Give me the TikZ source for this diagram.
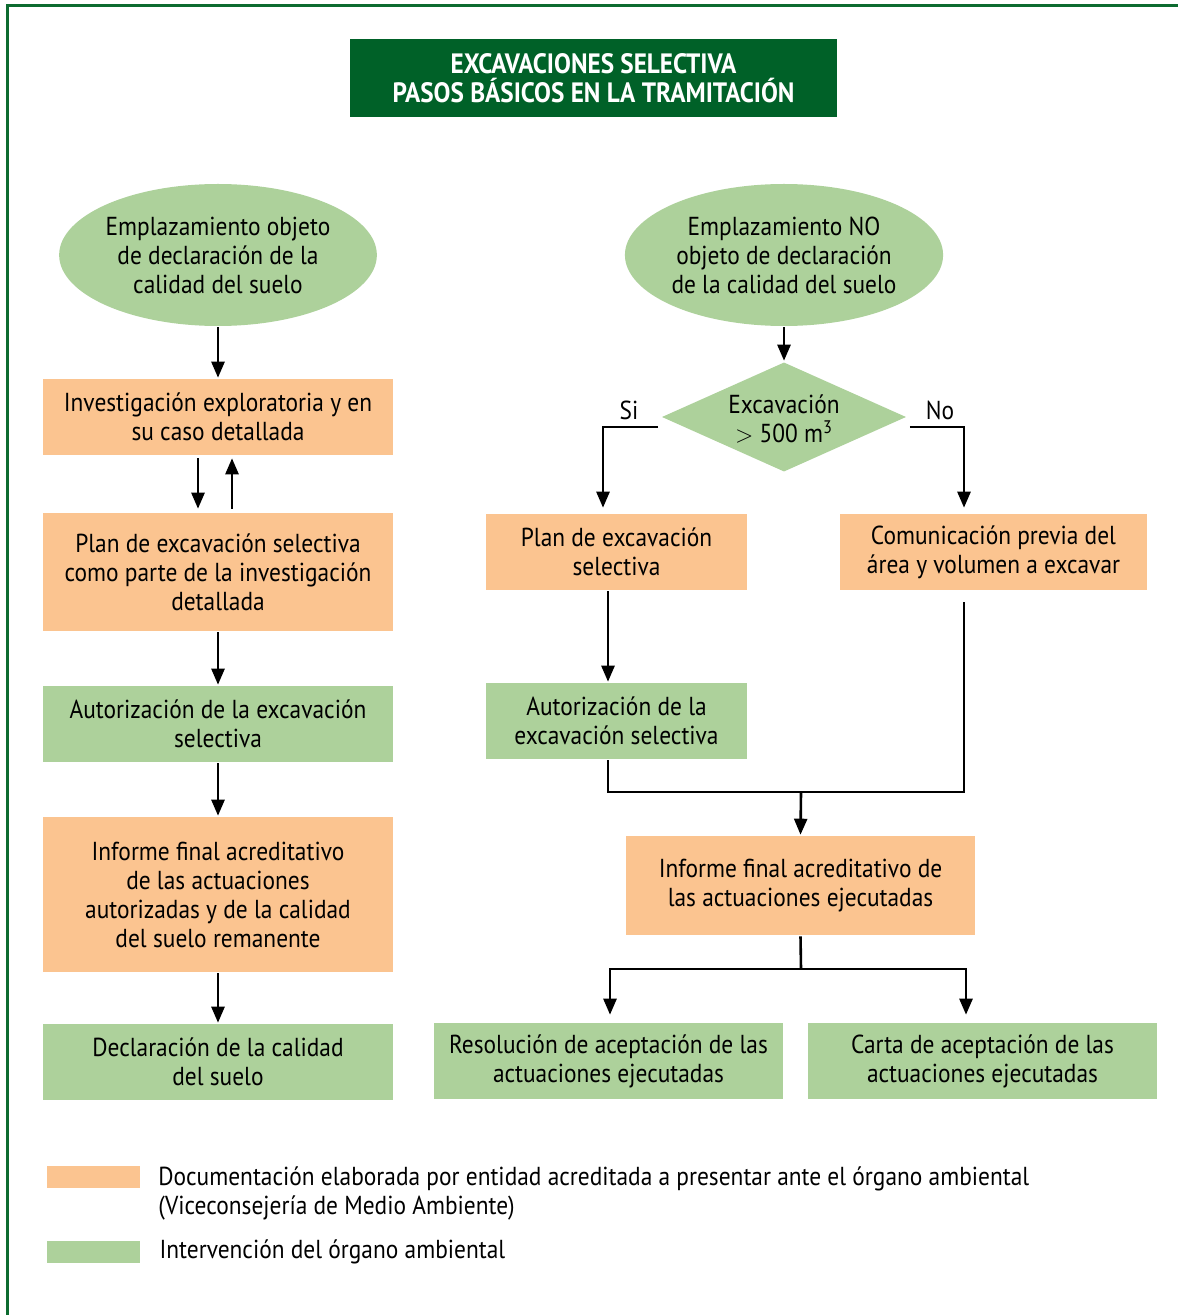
\documentclass[tikz,border=0pt]{standalone}
\usepackage{fontspec}
\setmainfont{PT Sans}[FakeStretch=0.9]
\usepackage{tikz}
\usetikzlibrary{arrows.meta}
\usetikzlibrary{positioning}
\usetikzlibrary{shapes.geometric}
\definecolor{frame}{HTML}{0D6B30}
\definecolor{title}{HTML}{006128}
\definecolor{docorange}{HTML}{FBC490}
\definecolor{envgreen}{HTML}{ADD19B}

\begin{document}
\begin{tikzpicture}[x=0.5pt,y=-0.5pt,>={Triangle[length=8pt,width=6.5pt]},line width=1.3pt,
    font=\fontsize{13pt}{14.5pt}\selectfont,
    box/.style={rectangle,align=center,inner sep=0pt,minimum width=175pt,minimum height=38pt},
    orange box/.style={box,fill=docorange},
    green box/.style={box,fill=envgreen},
    site node/.style={ellipse,fill=envgreen,align=center,inner sep=0pt,minimum width=157.5pt,minimum height=71pt},
    choice node/.style={diamond,fill=envgreen,inner sep=0pt,minimum width=122.5pt,minimum height=55pt},
    swatch/.style={rectangle,inner sep=0pt,minimum width=46.5pt,minimum height=11pt}]
      \useasboundingbox (0,0) rectangle (1178,1315);
      \draw[frame,line width=1.5pt] (7.5,1315) -- (7.5,5.5) -- (1178,5.5);

      \node [rectangle,fill=title,text=white,font=\fontsize{14pt}{14.5pt}\selectfont\bfseries,
             align=center,minimum width=243.5pt,minimum height=39pt] (head) at (593.5,78)
            {EXCAVACIONES SELECTIVA\\PASOS BÁSICOS EN LA TRAMITACIÓN};

      % left column
      \node [site node] (e1) at (218,255) {Emplazamiento objeto\\de declaración de la\\calidad del suelo};
      \node [orange box] (l1) at (218,417) {Investigación exploratoria y en\\su caso detallada};
      \node [orange box,minimum height=59pt] (l2) at (218,572) {Plan de excavación selectiva\\como parte de la investigación\\detallada};
      \node [green box] (l3) at (218,724) {Autorización de la excavación\\selectiva};
      \node [orange box,minimum height=77.5pt] (l4) at (218,894.5) {Informe final acreditativo\\de las actuaciones\\autorizadas y de la calidad\\del suelo remanente};
      \node [green box] (l5) at (218,1062) {Declaración de la calidad\\del suelo};

      % right column
      \node [site node] (e2) at (784,255) {Emplazamiento NO\\objeto de declaración\\de la calidad del suelo};
      \node [choice node,label={[align=center,yshift=-1pt]center:Excavación\\$>$ 500 m\textsuperscript{3}}] (d) at (784,417) {};
      \node [orange box,minimum width=130.5pt] (r1) at (616.5,552) {Plan de excavación\\selectiva};
      \node [orange box,minimum width=153.5pt] (r2) at (993.5,552) {Comunicación previa del\\área y volumen a excavar};
      \node [green box,minimum width=130.5pt] (r3) at (616.5,721) {Autorización de la\\excavación selectiva};
      \node [orange box,minimum width=174.5pt,minimum height=49.5pt] (r4) at (800.5,885.5) {Informe final acreditativo de\\las actuaciones ejecutadas};
      \node [green box,minimum width=174.5pt] (r5) at (608.5,1061) {Resolución de aceptación de las\\actuaciones ejecutadas};
      \node [green box,minimum width=174.5pt] (r6) at (982.5,1061) {Carta de aceptación de las\\actuaciones ejecutadas};
      \node (si) at (629,410) {Si};
      \node (no) at (940,410) {No};
      \coordinate (join) at (801,792);
      \coordinate (split) at (801,969);

      \draw[->] (e1.south) -- (l1.north);
      \draw[->] ([xshift=-10pt,yshift=-1pt]l1.south) -- ([xshift=-10pt,yshift=1.5pt]l2.north);
      \draw[->] ([xshift=7pt,yshift=1.5pt]l2.north) -- ([xshift=7pt,yshift=-1pt]l1.south);
      \draw[->] (l2.south) -- (l3.north);
      \draw[->] (l3.south) -- (l4.north);
      \draw[->] (l4.south) -- (l5.north);

      \draw[->] (e2.south) -- (d.north);
      \draw[->,shorten >=2.5pt] ([xshift=-1pt,yshift=-5pt]d.west) -| ([xshift=-6.75pt]r1.north);
      \draw[->,shorten >=2.5pt] ([xshift=1pt,yshift=-5pt]d.east) -| ([xshift=-14.75pt]r2.north);
      \draw[->] ([xshift=-4.25pt]r1.south) -- ([xshift=-4.25pt]r3.north);
      \draw ([xshift=-4.25pt]r3.south) |- (join);
      \draw ([xshift=-14.75pt,yshift=-5.5pt]r2.south) |- (join);
      \draw[->] (join) -- (r4.north);
      \draw (r4.south) -- (split);
      \draw[->,shorten >=3.5pt] (split) -| ([xshift=0.75pt]r5.north);
      \draw[->,shorten >=3.5pt] (split) -| ([xshift=-8.25pt]r6.north);

      % legend
      \node [swatch,fill=docorange] (k1) at (93.5,1177) {};
      \node [swatch,fill=envgreen] (k2) at (93.5,1252) {};
      \node [anchor=north west,align=left,inner sep=0pt] (t1) at (157,1165)
            {Documentación elaborada por entidad acreditada a presentar ante el órgano ambiental\\(Viceconsejería de Medio Ambiente)};
      \node [right=8.5pt of k2,inner sep=0pt] (t2) {Intervención del órgano ambiental};
\end{tikzpicture}
\end{document}
